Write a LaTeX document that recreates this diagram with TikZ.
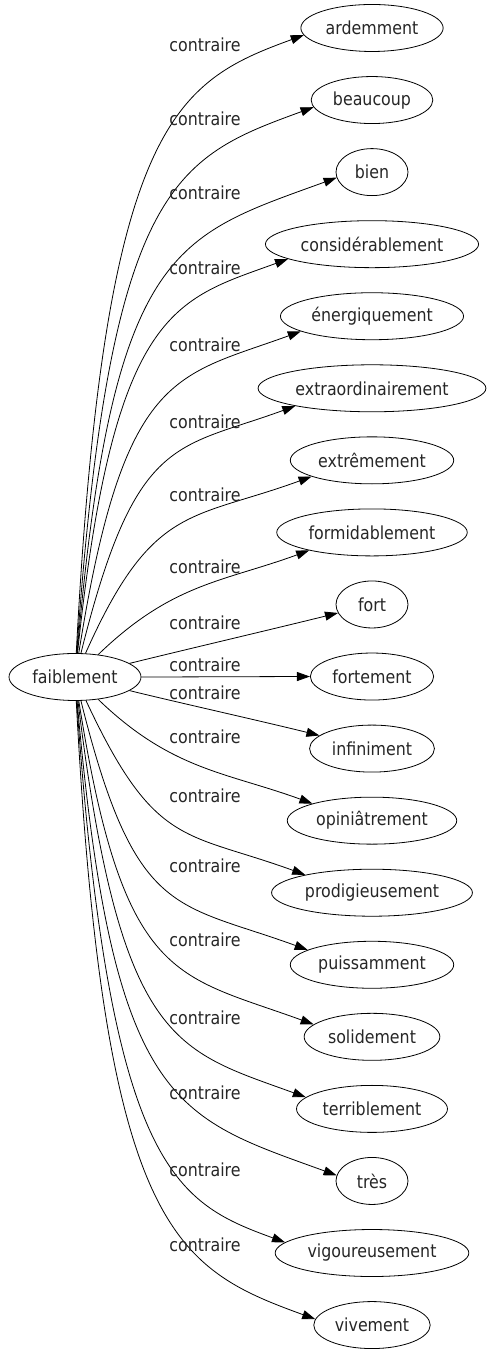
\documentclass[tikz,border=0pt]{standalone}
\usepackage{fontspec}
\setmainfont{DejaVu Sans}[FakeStretch=0.88]
\usetikzlibrary{arrows.meta,shapes.geometric}

\begin{document}
\begin{tikzpicture}[x=1pt,y=1pt,
  word/.style={draw,ellipse,line width=0.8pt,minimum height=47pt,minimum width=72pt,
               inner xsep=4pt,font=\fontsize{18}{22}\selectfont,text=black!85},
  rel/.style={font=\fontsize{18}{22}\selectfont,text=black!85},
  link/.style={line width=0.8pt,-{Triangle[length=13pt,width=9pt]}}
]
  \useasboundingbox (0,0) rectangle (490,1355);
  \node[word] (faib) at (75,678) {faiblement};
  % one target, one edge and one label per antonym
  \foreach \w/\ly [count=\i from 0] in {ardemment/45, beaucoup/119, bien/193,
      considérablement/268, énergiquement/345, extraordinairement/422,
      extrêmement/495, formidablement/567, fort/623, fortement/665,
      infiniment/693, opiniâtrement/737, prodigieusement/796,
      puissamment/866, solidement/940, terriblement/1018, très/1093,
      vigoureusement/1170, vivement/1245}{
    \pgfmathsetmacro{\ty}{1355-28-72.06*\i}
    \pgfmathsetmacro{\dy}{\ty-678}
    \pgfmathsetmacro{\r}{\dy/146}
    \pgfmathsetmacro{\a}{atan(\r*abs(\r))}
    \pgfmathtruncatemacro{\ao}{mod(round(\a)+360,360)}
    \pgfmathtruncatemacro{\ai}{180+round(min(abs(\a),20)*sign(\dy))}
    \pgfmathtruncatemacro{\ae}{180+round(min(abs(\a),19-0.02*abs(\dy))*sign(\dy))}
    \pgfmathsetmacro{\od}{max(0.85*abs(\dy)-20,25)}
    \node[word] (t\i) at (372,\ty) {\w};
    \path (t\i.\ae); \pgfgetlastxy{\ex}{\ey}
    \pgfmathsetmacro{\id}{max(min((\ex-175)/0.94,0.5*abs(\dy)+20),20)}
    \draw[link] (faib.\ao) .. controls +(\ao:\od) and +(\ai:\id) .. (t\i.\ae);
    \node[rel] (l\i) at (205,1355-\ly) {contraire};
  }
\end{tikzpicture}
\end{document}
